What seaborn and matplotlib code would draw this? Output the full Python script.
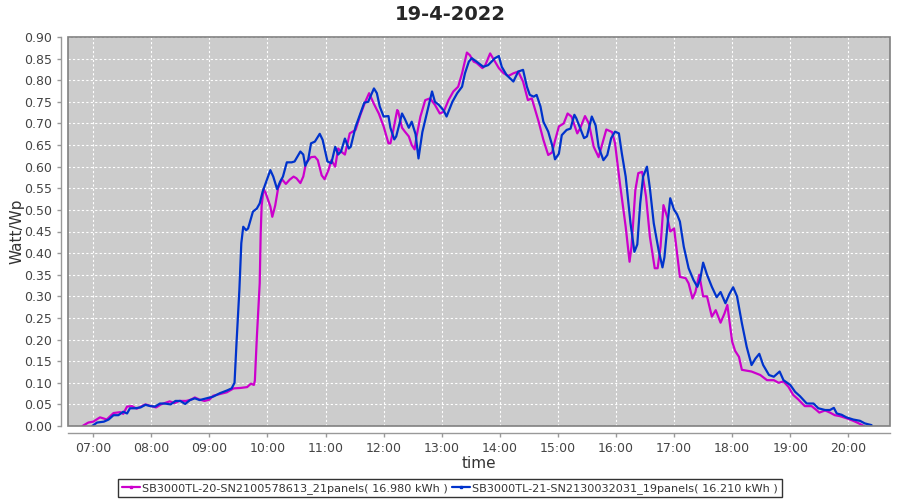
"""Daily yield per Wp for two inverters, 19-4-2022."""

import matplotlib
matplotlib.use("Agg")
import matplotlib.dates as mdates
import matplotlib.pyplot as plt
import pandas as pd
import seaborn as sns
from matplotlib.lines import Line2D
from matplotlib.patches import Rectangle

DAY = "2022-04-19"
TITLE = "19-4-2022"
NAME_A = "SB3000TL-20-SN2100578613_21panels( 16.980 kWh )"
NAME_B = "SB3000TL-21-SN2130032031_19panels( 16.210 kWh )"

times_a = [
    "06:49", "06:55", "07:00", "07:07", "07:10", "07:14", "07:21", "07:28", "07:31", "07:35",
    "07:40", "07:45", "07:54", "08:00", "08:05", "08:10", "08:19", "08:24", "08:29", "08:36",
    "08:41", "08:45", "08:50", "08:55", "09:00", "09:04", "09:11", "09:18", "09:25", "09:32",
    "09:39", "09:43", "09:46", "09:47", "09:49", "09:52", "09:53", "09:54", "09:56", "09:58",
    "10:03", "10:05", "10:08", "10:11", "10:15", "10:19", "10:23", "10:27", "10:30", "10:34",
    "10:37", "10:40", "10:45", "10:49", "10:52", "10:56", "10:59", "11:03", "11:06", "11:10",
    "11:13", "11:16", "11:20", "11:25", "11:31", "11:36", "11:41", "11:45", "11:50", "11:55",
    "12:00", "12:05", "12:07", "12:10", "12:14", "12:15", "12:19", "12:22", "12:26", "12:29",
    "12:32", "12:34", "12:38", "12:43", "12:48", "12:53", "12:58", "13:02", "13:07", "13:12",
    "13:17", "13:21", "13:26", "13:29", "13:33", "13:36", "13:42", "13:45", "13:50", "13:54",
    "13:59", "14:04", "14:09", "14:14", "14:19", "14:24", "14:29", "14:33", "14:40", "14:45",
    "14:50", "14:54", "14:57", "15:01", "15:06", "15:10", "15:14", "15:20", "15:23", "15:28",
    "15:32", "15:37", "15:42", "15:45", "15:50", "15:56", "15:59", "16:04", "16:10", "16:14",
    "16:16", "16:20", "16:23", "16:27", "16:31", "16:35", "16:40", "16:43", "16:46", "16:49",
    "16:53", "16:56", "17:00", "17:03", "17:06", "17:12", "17:15", "17:19", "17:22", "17:26",
    "17:30", "17:34", "17:39", "17:43", "17:48", "17:52", "17:55", "18:00", "18:03", "18:07",
    "18:10", "18:15", "18:20", "18:29", "18:36", "18:43", "18:48", "18:53", "18:58", "19:03",
    "19:08", "19:15", "19:22", "19:27", "19:30", "19:36", "19:41", "19:46", "19:51", "19:58",
    "20:05", "20:10", "20:16",
]
values_a = [
    0.000, 0.008, 0.010, 0.020, 0.018, 0.015, 0.030, 0.032, 0.028, 0.045,
    0.046, 0.040, 0.050, 0.046, 0.043, 0.050, 0.057, 0.053, 0.058, 0.058,
    0.061, 0.066, 0.061, 0.058, 0.061, 0.070, 0.074, 0.078, 0.087, 0.088,
    0.090, 0.098, 0.095, 0.105, 0.203, 0.330, 0.445, 0.510, 0.548, 0.540,
    0.508, 0.484, 0.510, 0.550, 0.571, 0.560, 0.570, 0.577, 0.573, 0.562,
    0.577, 0.610, 0.622, 0.623, 0.615, 0.580, 0.571, 0.592, 0.615, 0.600,
    0.642, 0.635, 0.628, 0.677, 0.685, 0.720, 0.750, 0.770, 0.745, 0.723,
    0.693, 0.654, 0.654, 0.685, 0.731, 0.728, 0.690, 0.681, 0.670, 0.650,
    0.640, 0.670, 0.716, 0.754, 0.758, 0.743, 0.723, 0.727, 0.754, 0.774,
    0.785, 0.816, 0.864, 0.858, 0.843, 0.840, 0.828, 0.835, 0.862, 0.847,
    0.828, 0.816, 0.810, 0.816, 0.820, 0.797, 0.754, 0.758, 0.705, 0.662,
    0.627, 0.633, 0.660, 0.693, 0.700, 0.723, 0.716, 0.677, 0.689, 0.717,
    0.700, 0.646, 0.622, 0.646, 0.686, 0.680, 0.654, 0.562, 0.461, 0.380,
    0.415, 0.546, 0.585, 0.588, 0.531, 0.438, 0.365, 0.365, 0.415, 0.511,
    0.483, 0.450, 0.457, 0.400, 0.345, 0.342, 0.330, 0.295, 0.310, 0.350,
    0.300, 0.300, 0.253, 0.268, 0.239, 0.260, 0.280, 0.195, 0.174, 0.160,
    0.130, 0.128, 0.126, 0.118, 0.106, 0.106, 0.100, 0.103, 0.091, 0.072,
    0.062, 0.046, 0.046, 0.037, 0.031, 0.036, 0.031, 0.025, 0.023, 0.018,
    0.012, 0.007, 0.000,
]

times_b = [
    "06:59", "07:04", "07:11", "07:16", "07:21", "07:26", "07:31", "07:35", "07:38", "07:43",
    "07:49", "07:54", "07:59", "08:04", "08:09", "08:14", "08:20", "08:25", "08:30", "08:35",
    "08:40", "08:45", "08:50", "08:57", "09:04", "09:11", "09:18", "09:23", "09:26", "09:28",
    "09:31", "09:33", "09:35", "09:38", "09:40", "09:45", "09:49", "09:52", "09:55", "09:58",
    "10:03", "10:06", "10:10", "10:13", "10:16", "10:20", "10:25", "10:28", "10:34", "10:37",
    "10:39", "10:42", "10:45", "10:49", "10:54", "10:57", "11:02", "11:06", "11:10", "11:13",
    "11:16", "11:20", "11:24", "11:26", "11:31", "11:36", "11:40", "11:44", "11:50", "11:53",
    "11:56", "12:00", "12:05", "12:07", "12:11", "12:13", "12:19", "12:22", "12:26", "12:29",
    "12:33", "12:36", "12:40", "12:45", "12:50", "12:53", "12:57", "13:02", "13:05", "13:11",
    "13:16", "13:21", "13:24", "13:28", "13:31", "13:36", "13:43", "13:48", "13:55", "13:59",
    "14:02", "14:07", "14:14", "14:19", "14:24", "14:28", "14:31", "14:35", "14:38", "14:42",
    "14:45", "14:50", "14:54", "14:57", "15:01", "15:04", "15:09", "15:13", "15:17", "15:19",
    "15:23", "15:27", "15:30", "15:35", "15:39", "15:42", "15:47", "15:51", "15:55", "15:59",
    "16:03", "16:06", "16:10", "16:15", "16:19", "16:22", "16:25", "16:28", "16:32", "16:35",
    "16:39", "16:44", "16:48", "16:50", "16:54", "16:56", "17:00", "17:03", "17:06", "17:10",
    "17:15", "17:20", "17:24", "17:27", "17:30", "17:34", "17:39", "17:44", "17:48", "17:53",
    "17:57", "18:01", "18:05", "18:10", "18:15", "18:20", "18:24", "18:28", "18:32", "18:38",
    "18:43", "18:49", "18:53", "19:00", "19:05", "19:10", "19:17", "19:24", "19:29", "19:36",
    "19:41", "19:45", "19:48", "19:53", "19:58", "20:05", "20:12", "20:17", "20:24",
]
values_b = [
    0.000, 0.008, 0.010, 0.015, 0.025, 0.025, 0.033, 0.029, 0.041, 0.041,
    0.043, 0.049, 0.046, 0.045, 0.052, 0.052, 0.050, 0.058, 0.058, 0.051,
    0.060, 0.064, 0.060, 0.064, 0.068, 0.076, 0.082, 0.087, 0.100, 0.190,
    0.315, 0.423, 0.461, 0.453, 0.457, 0.496, 0.503, 0.515, 0.542, 0.561,
    0.592, 0.577, 0.548, 0.565, 0.577, 0.610, 0.610, 0.612, 0.635, 0.628,
    0.602, 0.615, 0.654, 0.658, 0.676, 0.662, 0.612, 0.608, 0.646, 0.628,
    0.635, 0.665, 0.642, 0.646, 0.692, 0.723, 0.748, 0.750, 0.781, 0.770,
    0.739, 0.716, 0.717, 0.690, 0.663, 0.670, 0.723, 0.710, 0.690, 0.704,
    0.675, 0.619, 0.680, 0.727, 0.774, 0.750, 0.743, 0.730, 0.716, 0.750,
    0.770, 0.785, 0.816, 0.843, 0.851, 0.843, 0.831, 0.835, 0.851, 0.856,
    0.831, 0.812, 0.797, 0.820, 0.824, 0.785, 0.766, 0.762, 0.766, 0.739,
    0.704, 0.681, 0.650, 0.617, 0.630, 0.673, 0.685, 0.688, 0.720, 0.712,
    0.689, 0.666, 0.670, 0.716, 0.695, 0.646, 0.615, 0.627, 0.666, 0.681,
    0.677, 0.631, 0.577, 0.469, 0.403, 0.420, 0.515, 0.577, 0.600, 0.550,
    0.469, 0.407, 0.367, 0.390, 0.484, 0.527, 0.500, 0.490, 0.473, 0.415,
    0.365, 0.338, 0.322, 0.340, 0.378, 0.350, 0.322, 0.298, 0.310, 0.284,
    0.305, 0.321, 0.300, 0.238, 0.183, 0.141, 0.156, 0.167, 0.141, 0.118,
    0.114, 0.126, 0.106, 0.095, 0.079, 0.069, 0.052, 0.052, 0.041, 0.037,
    0.037, 0.042, 0.029, 0.026, 0.020, 0.015, 0.012, 0.006, 0.002,
]

COLOR_A = "#CC00CC"
COLOR_B = "#0033CC"


def to_frame(times, values, name):
    return pd.DataFrame({
        "time": pd.to_datetime([f"{DAY} {t}" for t in times]),
        "value": values,
        "series": name,
    })


def main() -> None:
    sns.set_style("ticks")
    plt.rcParams["font.family"] = ["DejaVu Sans"]

    df = pd.concat([to_frame(times_a, values_a, NAME_A),
                    to_frame(times_b, values_b, NAME_B)], ignore_index=True)

    fig = plt.figure(figsize=(9, 5), dpi=100)
    ax = fig.add_axes([68 / 900, 1 - 426 / 500, 822 / 900, 389 / 500])
    ax.set_facecolor("#CCCCCC")

    sns.lineplot(data=df, x="time", y="value", hue="series",
                 palette={NAME_A: COLOR_A, NAME_B: COLOR_B},
                 linewidth=1.6, legend=False, ax=ax, estimator=None, sort=True)

    ax.set_xlim(pd.Timestamp(f"{DAY} 06:34"), pd.Timestamp(f"{DAY} 20:43"))
    ax.set_ylim(0, 0.9)
    ax.set_yticks([i * 0.05 for i in range(19)])
    ax.yaxis.set_major_formatter(plt.FuncFormatter(lambda v, _: f"{v:.2f}"))
    ax.xaxis.set_major_locator(mdates.HourLocator(byhour=range(7, 21)))
    ax.xaxis.set_major_formatter(mdates.DateFormatter("%H:%M"))

    ax.grid(True, color="white", linestyle=(0, (2, 2)), linewidth=0.8)
    ax.set_axisbelow(True)

    for side in ["top", "right"]:
        ax.spines[side].set_visible(False)
    for side in ["left", "bottom"]:
        ax.spines[side].set_position(("outward", 5))
        ax.spines[side].set_color("#999999")
        ax.spines[side].set_linewidth(1)
    ax.add_patch(Rectangle((0, 0), 1, 1, transform=ax.transAxes, fill=False,
                           edgecolor="#808080", linewidth=1.2, clip_on=False, zorder=5))

    ax.tick_params(axis="both", colors="#999999", labelcolor="#444444",
                   labelsize=9, length=3, width=1)

    ax.set_xlabel("time", fontsize=11, color="#333333", labelpad=1)
    ax.set_ylabel("Watt/Wp", fontsize=11, color="#333333", labelpad=0)
    fig.suptitle(TITLE, fontsize=14, fontweight="bold", y=0.99, x=0.5, va="top")

    handles = [Line2D([], [], color=COLOR_A, linewidth=1.6, marker="s", markersize=2),
               Line2D([], [], color=COLOR_B, linewidth=1.6, marker="s", markersize=2)]
    leg = fig.legend(handles, [NAME_A, NAME_B], loc="lower center",
                     bbox_to_anchor=(0.5, 0.006), ncol=2, fontsize=8.1, frameon=True,
                     fancybox=False, handlelength=1.6, handletextpad=0.2,
                     columnspacing=0.4, borderpad=0.3, borderaxespad=0)
    leg.get_frame().set_edgecolor("black")
    leg.get_frame().set_linewidth(1)
    for t in leg.get_texts():
        t.set_color("#333333")

    fig.savefig("out.png", dpi=100)
    plt.close(fig)


if __name__ == "__main__":
    main()
